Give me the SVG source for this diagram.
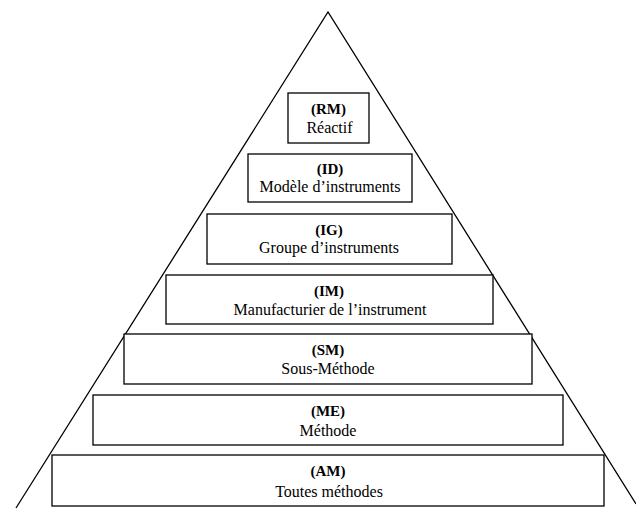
<svg xmlns="http://www.w3.org/2000/svg" width="636" height="510" viewBox="0 0 636 510">
<style>
.box{fill:#fff;stroke:#000;stroke-width:1.3}
.t{font-family:"Liberation Serif","Times New Roman",serif;font-size:16px;fill:#000;text-anchor:middle}
.b{font-weight:bold;font-size:15px}
</style>
<rect width="636" height="510" fill="#fff"/>
<g id="connectors">
<polyline points="16,508 328,12 636,504" fill="none" stroke="#000" stroke-width="1.3"/>
</g>
<g id="RM"><rect class="box" x="288" y="93" width="81" height="50"/><text class="t b" x="328.5" y="114">(RM)</text><text class="t" x="329.5" y="133">Réactif</text></g>
<g id="ID"><rect class="box" x="248" y="154" width="164" height="48"/><text class="t b" x="330" y="174">(ID)</text><text class="t" x="330" y="192">Modèle d’instruments</text></g>
<g id="IG"><rect class="box" x="207" y="214" width="245" height="50"/><text class="t b" x="329" y="235">(IG)</text><text class="t" x="329" y="253">Groupe d’instruments</text></g>
<g id="IM"><rect class="box" x="166" y="275" width="327" height="49"/><text class="t b" x="329" y="296">(IM)</text><text class="t" x="330" y="315">Manufacturier de l’instrument</text></g>
<g id="SM"><rect class="box" x="124" y="334" width="408" height="50"/><text class="t b" x="328" y="355">(SM)</text><text class="t" x="328" y="374">Sous-Méthode</text></g>
<g id="ME"><rect class="box" x="93" y="395" width="470" height="50"/><text class="t b" x="328" y="416">(ME)</text><text class="t" x="328" y="436">Méthode</text></g>
<g id="AM"><rect class="box" x="52" y="455" width="552" height="51"/><text class="t b" x="328" y="476">(AM)</text><text class="t" x="329" y="497">Toutes méthodes</text></g>
</svg>
